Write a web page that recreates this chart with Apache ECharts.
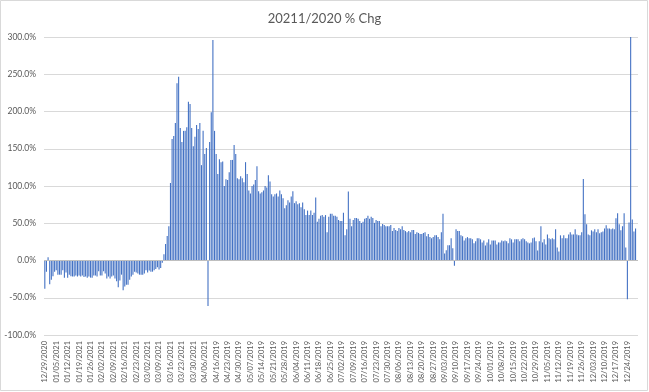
<!DOCTYPE html>
<html>
<head>
<meta charset="utf-8">
<script src="https://cdn.jsdelivr.net/npm/echarts@6/dist/echarts.min.js"></script>
<style>
html,body{margin:0;padding:0;background:#fff;}
#chart{width:649px;height:392px;}
</style>
</head>
<body>
<div id="chart"></div>
<script>
// Category date ranges (daily): [start date, number of days]
const dateRanges = [['2020-12-29', 103], ['2019-04-14', 261]];

// % change values, one per day
const pctChange = [
  -38, -15, 4.5, -32, -26, -21, -15, -13, -19, -19,
  -19, -13, -23, -16, -23, -19, -21, -21.5, -21.5, -20,
  -21.5, -20, -21.5, -20, -22, -21.5, -23, -21.5, -23, -23,
  -20, -20, -21.5, -14.5, -20, -20, -14.5, -17.5, -24, -21.5,
  -24, -21.5, -20, -24, -28, -36, -27, -19, -40, -35,
  -32.5, -32.5, -26, -21.5, -19, -15, -16, -17.5, -19, -19,
  -19, -17.5, -13, -16, -13.5, -15, -15, -13, -11.5, -9,
  -12, -10, -3, 8.5, 22, 33, 46, 104, 163, 167,
  184.5, 238, 246.5, 178, 159, 174, 174, 179, 213, 210,
  178, 153.5, 166, 182, 176.5, 184.5, 128, 174, 143, 151,
  -61, 159, 199, 296, 174, 143, 116, 136, 132, 133,
  100, 109, 108, 118.5, 135, 135, 155, 143, 110.5, 109,
  113, 110.5, 105, 132, 116, 94, 90, 100, 102, 108,
  126.6, 93, 90, 91.6, 94, 100, 98, 114.5, 106, 89,
  86, 89, 90, 86, 94, 89, 83.5, 70, 74, 81,
  78, 86, 93, 77, 79.5, 75.5, 77, 71.4, 78, 68.7,
  61, 67, 61, 67, 61, 64, 84.5, 52, 56, 60,
  61, 58.6, 61, 38, 58.6, 62.7, 62.7, 60, 60, 58.6,
  54.5, 53, 53, 64, 34, 42, 92.7, 56, 46, 54.5,
  57, 57, 56, 53, 50.5, 52, 56, 57, 60, 56,
  58.6, 57, 50.5, 54.5, 53, 53, 46, 49, 47.7, 46,
  46, 46, 47.7, 39.5, 43.6, 41, 39.5, 43.6, 42, 46,
  41, 39.5, 38, 39.5, 38, 41, 41, 35.5, 38, 37,
  35.5, 35.5, 37, 38, 32.7, 35.5, 31.4, 30, 31.4, 34,
  34, 31.4, 28.6, 38, 62.7, 9.5, 13.6, 20.5, 20.5, 30,
  16.4, -7, 42, 39.5, 39.5, 34, 32.7, 27, 30, 31.4,
  30, 30, 28.4, 23, 25.7, 29.7, 29.7, 28.4, 24.3, 27,
  20.3, 24.3, 28.4, 21.6, 27, 27, 27, 21.6, 24.3, 24.3,
  27, 25.7, 27, 25.7, 23, 29.7, 28.4, 24.3, 28.4, 28.4,
  28.4, 25.7, 28.4, 29.7, 28.4, 25.7, 24.3, 23, 24.3, 29.7,
  31, 25.7, 13.5, 25.7, 46, 24.3, 28.4, 21.6, 35, 29.7,
  28.4, 29.7, 28.4, 42, 17.6, 12.2, 33.8, 29.7, 33.8, 29.7,
  29.7, 35, 37.8, 35, 35, 42, 35, 33.8, 33.8, 37.8,
  109.5, 62, 48.6, 35, 33.8, 40.5, 39, 42, 37.8, 42,
  36.5, 37.8, 39, 43, 47.3, 43, 43, 42, 43, 42,
  56.8, 63.5, 48.6, 40.5, 46, 63.5, 17.6, -52, 51, 300,
  55, 39, 43
];

// Y axis ticks (percent)
const yTicks = { min: -100, max: 300, step: 50 };
const titleText = '20211/2020 % Chg';

function pad(n){ return (n < 10 ? '0' : '') + n; }
const categories = [];
dateRanges.forEach(function (r) {
  const p = r[0].split('-').map(Number);
  for (let i = 0; i < r[1]; i++) {
    const d = new Date(Date.UTC(p[0], p[1] - 1, p[2] + i));
    categories.push(pad(d.getUTCMonth() + 1) + '/' + pad(d.getUTCDate()) + '/' + d.getUTCFullYear());
  }
});

const FONT = 'Lato, "Liberation Sans", sans-serif';
const chart = echarts.init(document.getElementById('chart'), null, { renderer: 'canvas' });
chart.setOption({
  animation: false,
  backgroundColor: '#ffffff',
  title: {
    text: titleText,
    left: 'center',
    top: 7,
    textStyle: { fontFamily: FONT, fontSize: 13, fontWeight: 'normal', color: '#595959' }
  },
  graphic: [{
    type: 'rect',
    shape: { x: 0.5, y: 0.5, width: 647, height: 390 },
    style: { fill: 'none', stroke: '#d9d9d9', lineWidth: 1 },
    silent: true
  }],
  grid: { left: 44, right: 11, top: 37, bottom: 57, containLabel: false },
  xAxis: {
    type: 'category',
    data: categories,
    boundaryGap: true,
    axisLine: { show: false, onZero: false },
    axisTick: { show: false },
    splitLine: { show: false },
    axisLabel: {
      interval: 6,
      rotate: 90,
      margin: 6,
      fontFamily: FONT,
      fontSize: 7.5,
      color: '#595959'
    }
  },
  yAxis: {
    type: 'value',
    min: yTicks.min,
    max: yTicks.max,
    interval: yTicks.step,
    axisLine: { show: false },
    axisTick: { show: false },
    splitLine: { lineStyle: { color: '#d9d9d9', width: 1 } },
    axisLabel: {
      margin: 8,
      fontFamily: FONT,
      fontSize: 8.5,
      color: '#595959',
      formatter: function (v) { return v.toFixed(1) + '%'; }
    }
  },
  series: [{
    type: 'bar',
    data: pctChange,
    barWidth: 1.1,
    itemStyle: { color: '#4472C4' },
    markLine: {
      silent: true,
      symbol: 'none',
      label: { show: false },
      lineStyle: { color: '#bfbfbf', type: 'solid', width: 1 },
      data: [{ yAxis: 0 }]
    }
  }]
});
</script>
</body>
</html>
